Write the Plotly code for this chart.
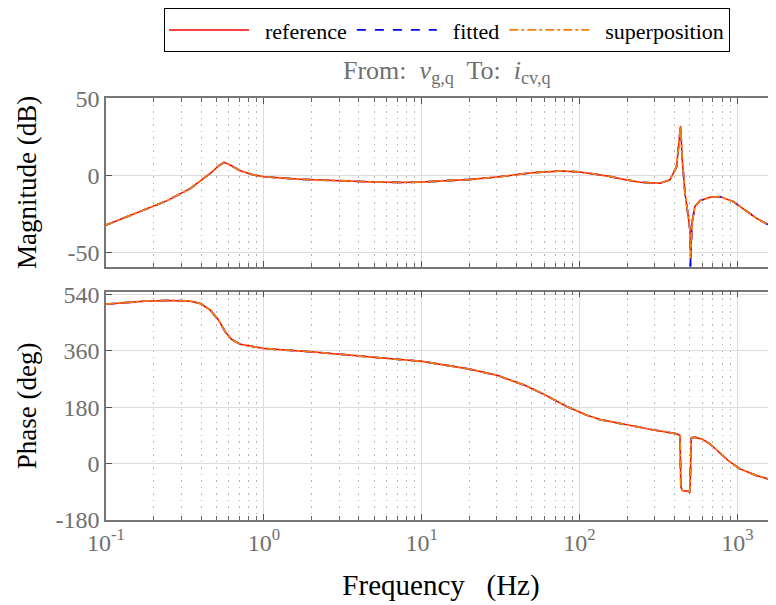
import plotly.graph_objects as go

# frequency points (Hz)
freq_mag = [0.1, 0.173, 0.244, 0.343, 0.458, 0.52, 0.562, 0.62, 0.71, 0.85, 1.0, 1.7, 3, 5, 7.3, 10,
            20, 30, 50, 77, 100, 150, 200, 241, 323, 374, 412, 428, 437, 448, 466, 489, 501, 506,
            516, 538, 579, 670, 776, 942, 1324, 1758]
mag_ref = [-32.3, -22.5, -16.4, -8.4, 1.4, 6.5, 8.6, 6.5, 3.1, 0.5, -0.8, -2.5, -3.5, -4.2, -4.5, -4.3,
           -2.6, -1.0, 1.8, 3.0, 2.3, -0.3, -2.9, -4.4, -5.1, -2.9, 5.7, 21.0, 32.3, 10.1, -11.6, -26.8, -35.5, -54.0,
           -31.0, -20.3, -16.4, -14.2, -13.8, -17.0, -27.9, -34.9]
mag_fit = [-32.3, -22.5, -16.4, -8.4, 1.4, 6.5, 8.6, 6.5, 3.1, 0.5, -0.8, -2.5, -3.5, -4.2, -4.5, -4.3,
           -2.6, -1.0, 1.8, 3.0, 2.3, -0.3, -2.9, -4.4, -5.1, -2.9, 5.7, 21.0, 32.3, 10.1, -11.6, -26.8, -35.5, -59.5,
           -31.0, -20.3, -16.4, -14.2, -13.8, -17.0, -27.9, -34.9]

freq_ph = [0.1, 0.173, 0.256, 0.343, 0.397, 0.458, 0.517, 0.57, 0.627, 0.71, 1.0, 2.07, 7.3, 10,
           20, 30, 45, 60, 83, 110, 135, 199, 293, 412, 433, 439, 450, 501, 511, 538, 600, 670, 760, 875,
           1038, 1324, 1758]
phase_ref = [510, 519.7, 522, 519.7, 512, 490.8, 458.6, 421, 396.6, 381.5, 367.7, 356.8, 332.3, 327,
             302, 282, 250, 220, 182, 155, 140, 123, 107, 94.5, 89, -77, -87.7, -91, 81.6, 83.6, 77, 62.3, 37, 8.7,
             -18, -39.5, -57.8]

series = [("reference", "#ff0000", "solid", 1.5),
          ("fitted", "#0000ff", "dash", 1.8),
          ("superposition", "#ff8000", "dashdot", 1.8)]

major_x = [0.1, 1, 10, 100, 1000]
major_x_text = ["10<sup>-1</sup>", "10<sup>0</sup>", "10<sup>1</sup>", "10<sup>2</sup>", "10<sup>3</sup>"]
minor_x = [m * d for d in [0.1, 1, 10, 100, 1000] for m in range(2, 10)]
mag_ticks = [-50, 0, 50]
phase_ticks = [-180, 0, 180, 360, 540]

FONT = "Times New Roman, Liberation Serif, serif"
GRAY = "#6f6f6f"

fig = go.Figure()
for name, color, dash, w in series:
    mags = mag_fit if name == "fitted" else mag_ref
    fig.add_trace(go.Scatter(x=freq_mag, y=mags, mode="lines", name="&nbsp;&nbsp;" + name,
                             line=dict(color=color, dash=dash, width=w),
                             xaxis="x", yaxis="y", legendgroup=name))
    fig.add_trace(go.Scatter(x=freq_ph, y=phase_ref, mode="lines", name=name,
                             line=dict(color=color, dash=dash, width=w),
                             xaxis="x2", yaxis="y2", legendgroup=name, showlegend=False))

xaxis_common = dict(
    type="log", range=[-1, 3.245], tickvals=major_x, ticktext=major_x_text,
    ticks="inside", ticklen=6, tickwidth=1.2, tickcolor="#555",
    showline=True, linecolor="#777", linewidth=1.5, mirror="ticks",
    showgrid=True, gridcolor="#dcdcdc", gridwidth=1, zeroline=False, automargin=False,
    minor=dict(tickvals=minor_x, ticks="inside", ticklen=4, tickcolor="#666",
               showgrid=True, griddash="1.5px,5px", gridcolor="#b4b4b4", gridwidth=1),
    tickfont=dict(family=FONT, size=24, color=GRAY),
)
yaxis_common = dict(
    ticks="inside", ticklen=6, tickwidth=1.2, tickcolor="#555",
    showline=True, linecolor="#777", linewidth=1.5, mirror=False,
    showgrid=True, gridcolor="#dcdcdc", gridwidth=1, zeroline=False, automargin=False,
    tickfont=dict(family=FONT, size=24, color=GRAY),
)

# the page body adds an 8px offset, so the figure is 8px smaller than the window
fig.update_layout(
    width=768, height=597,
    margin=dict(l=98, r=0, t=90, b=85, autoexpand=False),
    paper_bgcolor="white", plot_bgcolor="white",
    font=dict(family=FONT, size=22, color="black"),
    xaxis=dict(xaxis_common, domain=[0, 1], anchor="y", showticklabels=False),
    yaxis=dict(yaxis_common, domain=[0.600, 1], range=[-59.5, 50.5],
               tickvals=mag_ticks, ticktext=[str(v) for v in mag_ticks],
               title=dict(text="Magnitude (dB)", standoff=23, font=dict(family=FONT, size=27))),
    xaxis2=dict(xaxis_common, domain=[0, 1], anchor="y2", matches="x",
                title=dict(text="Frequency&nbsp;&nbsp;&nbsp;(Hz)", standoff=20, font=dict(family=FONT, size=29))),
    yaxis2=dict(yaxis_common, domain=[0, 0.541], range=[-182, 550],
                tickvals=phase_ticks, ticktext=[str(v) for v in phase_ticks],
                title=dict(text="Phase (deg)", standoff=11, font=dict(family=FONT, size=27))),
    legend=dict(orientation="h", x=0.509, xanchor="center", y=1.213, yanchor="top",
                bordercolor="black", borderwidth=1, bgcolor="white",
                font=dict(family=FONT, size=22), itemwidth=80, tracegroupgap=0),
    showlegend=True,
)

fig.add_annotation(text="From:&nbsp; <i>v</i><sub>g,q</sub>&nbsp; To:&nbsp; <i>i</i><sub>cv,q</sub>",
                   xref="paper", yref="paper", x=0.509, y=1.0616, xanchor="center", yanchor="middle",
                   showarrow=False, font=dict(family=FONT, size=26, color=GRAY))

fig.write_html("out.html")
